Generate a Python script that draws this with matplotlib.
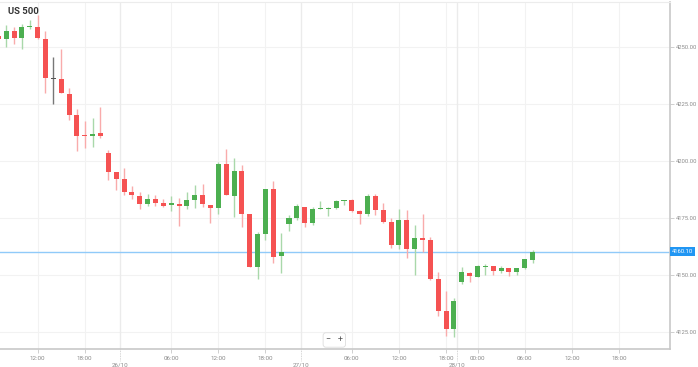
import numpy as np
import matplotlib.pyplot as plt

plt.rcParams['font.family'] = ['Roboto', 'DejaVu Sans']

# hourly candles (index -1 is the partly hidden one at the left edge)
opens = [4254.7, 4253.2, 4257.0, 4253.7, 4258.5, 4258.8, 4253.4, 4235.7, 4235.7, 4229.3,
         4220.0, 4211.2, 4210.8, 4212.0, 4203.5, 4195.2, 4192.0, 4186.4, 4184.7, 4181.0,
         4183.3, 4181.6, 4180.4, 4181.1, 4180.1, 4182.8, 4184.8, 4180.7, 4179.4, 4198.5,
         4184.7, 4195.5, 4176.6, 4153.2, 4167.7, 4187.5, 4158.3, 4172.1, 4175.0, 4179.8,
         4172.8, 4178.7, 4179.0, 4179.1, 4182.3, 4182.8, 4178.1, 4176.5, 4184.5, 4178.4,
         4172.9, 4163.0, 4174.0, 4161.1, 4166.0, 4165.2, 4148.1, 4134.1, 4126.2, 4146.9,
         4150.7, 4149.1, 4153.5, 4153.8, 4151.7, 4152.8, 4151.3, 4152.9, 4156.4]
highs = [4256.0, 4259.5, 4258.8, 4260.0, 4261.7, 4263.9, 4257.0, 4245.6, 4248.9, 4231.8,
         4222.7, 4217.4, 4218.6, 4223.7, 4204.7, 4195.2, 4196.7, 4189.0, 4186.1, 4185.4,
         4185.0, 4183.1, 4184.7, 4183.8, 4186.4, 4189.3, 4189.8, 4180.7, 4199.6, 4205.1,
         4201.0, 4198.1, 4176.6, 4168.9, 4187.5, 4191.2, 4168.2, 4176.2, 4181.0, 4179.8,
         4179.8, 4182.3, 4179.8, 4182.8, 4182.8, 4183.2, 4178.4, 4185.3, 4185.3, 4181.3,
         4174.7, 4178.7, 4178.4, 4171.8, 4176.5, 4166.4, 4151.3, 4142.9, 4139.9, 4153.5,
         4151.0, 4154.2, 4154.7, 4153.9, 4153.9, 4152.8, 4153.1, 4156.9, 4160.8]
lows = [4252.5, 4250.0, 4251.0, 4248.9, 4257.6, 4253.5, 4229.6, 4224.9, 4229.6, 4217.9,
        4204.3, 4205.4, 4206.1, 4209.8, 4191.5, 4187.1, 4185.0, 4183.1, 4178.7, 4180.1,
        4180.1, 4179.8, 4178.1, 4171.5, 4178.7, 4179.1, 4179.6, 4172.5, 4176.6, 4185.0,
        4175.2, 4170.8, 4153.3, 4148.0, 4165.2, 4155.0, 4150.6, 4169.3, 4174.0, 4170.8,
        4171.8, 4178.7, 4175.7, 4178.8, 4180.6, 4177.6, 4172.1, 4175.7, 4176.2, 4172.5,
        4161.8, 4161.3, 4157.5, 4149.9, 4160.1, 4147.7, 4131.9, 4123.1, 4122.8, 4145.8,
        4146.9, 4149.1, 4149.9, 4149.9, 4150.9, 4149.4, 4149.9, 4152.4, 4155.3]
closes = [4253.4, 4257.0, 4253.8, 4258.5, 4258.8, 4253.7, 4236.1, 4235.7, 4229.8, 4220.0,
          4211.0, 4210.9, 4211.7, 4211.0, 4195.2, 4192.0, 4186.1, 4185.0, 4181.0, 4183.1,
          4181.6, 4180.1, 4181.3, 4180.3, 4182.8, 4184.8, 4181.0, 4179.4, 4198.5, 4185.0,
          4195.5, 4176.6, 4153.5, 4167.9, 4187.5, 4157.6, 4159.8, 4174.9, 4180.0, 4172.5,
          4178.7, 4179.3, 4179.4, 4182.3, 4182.8, 4177.9, 4176.6, 4184.5, 4178.4, 4172.9,
          4163.0, 4174.0, 4161.1, 4166.2, 4165.4, 4148.1, 4134.2, 4126.2, 4138.3, 4151.0,
          4149.4, 4153.9, 4153.9, 4151.7, 4152.8, 4151.0, 4153.1, 4156.9, 4160.1]

last_price = 4160.10
y_ticks = [4125, 4150, 4175, 4200, 4225, 4250]
hour_labels = ["12:00", "18:00", "06:00", "12:00", "18:00", "06:00",
               "12:00", "18:00", "00:00", "06:00", "12:00", "18:00"]
hour_pos = [4, 10, 21, 27, 33, 44, 50, 56, 60, 66, 72, 78]
date_labels = ["26/10", "27/10", "28/10"]
date_pos = [14.5, 37.5, 57.4]

x = np.arange(len(opens)) - 1
o = np.array(opens)
c = np.array(closes)

fig = plt.figure(figsize=(6.98, 3.67), dpi=100)
ax = fig.add_axes([0, 18 / 367, 670 / 698, 347 / 367])
ax.set_xlim(-0.79, 84.5)
ax.set_ylim(4117.4, 4269.6)

# grid
for p in y_ticks:
    ax.axhline(p, color='#f2f2f2', lw=0.8, zorder=0)
for p in hour_pos:
    ax.axvline(p, color='#f2f2f2', lw=0.8, zorder=0)
for p in date_pos:
    ax.axvline(p, color='#ebebeb', lw=1.0, zorder=0)

up_col, dn_col, flat_col = '#4caf50', '#f55252', '#555555'
up_wick, dn_wick, flat_wick = '#a9d8aa', '#f9abab', '#777777'
body_cols, wick_cols = [], []
for oo, cc in zip(o, c):
    if cc > oo:
        body_cols.append(up_col); wick_cols.append(up_wick)
    elif cc < oo:
        body_cols.append(dn_col); wick_cols.append(dn_wick)
    else:
        body_cols.append(flat_col); wick_cols.append(flat_wick)

ax.vlines(x, lows, highs, colors=wick_cols, lw=1.0, zorder=2)
bottom = np.minimum(o, c)
height = np.maximum(np.abs(c - o), 0.45)
ax.bar(x, height, bottom=bottom, width=0.64, color=body_cols, lw=0, zorder=3)

# last price line and label
ax.axhline(last_price, color='#90caf9', lw=1.0, zorder=1)
ax.text(1.003, last_price, f"{last_price:.2f}", transform=ax.get_yaxis_transform(),
        ha='left', va='center', fontsize=4.2, color='white', clip_on=False,
        bbox=dict(boxstyle='square,pad=0.35', fc='#2196f3', ec='none'))

# axes styling
ax.spines['left'].set_visible(False)
ax.spines['top'].set_color('#ececec')
ax.spines['right'].set_color('#c8c8c8')
ax.spines['bottom'].set_color('#c8c8c8')
ax.spines['right'].set_linewidth(1.2)
ax.spines['bottom'].set_linewidth(1.2)

ax.yaxis.tick_right()
ax.set_yticks(y_ticks)
ax.set_yticklabels([f"{v:.2f}" for v in y_ticks])
ax.tick_params(axis='y', length=3, width=0.6, color='#c8c8c8', labelsize=4.2,
               labelcolor='#8a8a8a', pad=1)

ax.set_xticks(hour_pos)
ax.set_xticklabels(hour_labels)
ax.tick_params(axis='x', length=3, width=0.6, color='#c8c8c8', labelsize=4.5,
               labelcolor='#8a8a8a', pad=2)
for p, lab in zip(date_pos, date_labels):
    ax.plot([p, p], [0, -0.035], transform=ax.get_xaxis_transform(), color='#c8c8c8',
            lw=0.6, ls=(0, (1, 1)), clip_on=False)
    ax.text(p, -0.04, lab, transform=ax.get_xaxis_transform(), ha='center', va='top',
            fontsize=4.5, color='#8a8a8a', clip_on=False)

# title
ax.text(0.012, 0.972, "US 500", transform=ax.transAxes, fontsize=6.8, fontweight='bold',
        color='#333333', ha='left', va='center')

# zoom buttons
ax.text(0.499, 0.026, "\u2212   +", transform=ax.transAxes, fontsize=6.5, color='#555555',
        ha='center', va='center',
        bbox=dict(boxstyle='round,pad=0.3', fc='white', ec='#dddddd', lw=0.6))

fig.savefig('out.png', dpi=100)
